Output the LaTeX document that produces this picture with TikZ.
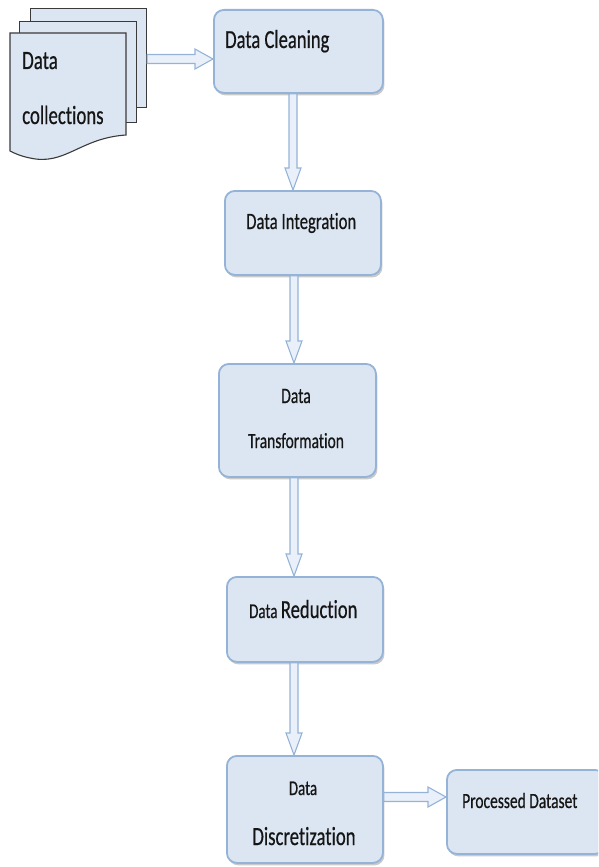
\documentclass[tikz,border=0pt]{standalone}
\usepackage{fontspec}
\setmainfont{Carlito}[Ligatures=NoCommon, FakeBold=0.6, BoldFont={Carlito}]
\usetikzlibrary{calc,shadows}
\definecolor{boxfill}{HTML}{DCE6F2}
\definecolor{boxline}{HTML}{95B3D7}
\definecolor{arrline}{HTML}{95B3D7}
\definecolor{arrfill}{HTML}{E9F0F9}
\definecolor{docline}{HTML}{3A3A3A}
\definecolor{txt}{HTML}{151515}
\newcommand{\stretched}[1]{\scalebox{1}[1.4]{#1}}
\newcommand{\varrow}[3]{%
  \draw[fatarr] let \p1=(#1.south), \p2=(#2.north) in
    (#3pt-4pt,\y1) -- (#3pt-4pt,\y2+22pt) -- (#3pt-8pt,\y2+22pt) -- (#3pt,\y2)
    -- (#3pt+8pt,\y2+22pt) -- (#3pt+4pt,\y2+22pt) -- (#3pt+4pt,\y1) -- cycle;}
\newcommand{\harrow}[3]{%
  \draw[fatarr] let \p1=(#1.east), \p2=(#2.west) in
    (\x1,-#3pt+4.5pt) -- (\x2-18pt,-#3pt+4.5pt) -- (\x2-18pt,-#3pt+10pt) -- (\x2,-#3pt)
    -- (\x2-18pt,-#3pt-10pt) -- (\x2-18pt,-#3pt-4.5pt) -- (\x1,-#3pt-4.5pt) -- cycle;}
\begin{document}
\begin{tikzpicture}[x=1pt,y=-1pt,
  box/.style={draw=boxline, line width=1.8pt, fill=boxfill, rounded corners=10pt,
    anchor=north west, inner sep=0pt,
    drop shadow={shadow xshift=1.5pt, shadow yshift=-2.5pt, opacity=0.35, fill=black!60}},
  sheet/.style={draw=docline, line width=1.1pt, fill=boxfill, anchor=north west, inner sep=0pt},
  fatarr/.style={draw=arrline, line width=1.1pt, fill=arrfill, line join=miter},
  lbl/.style={text=txt, inner sep=0pt, font=\bfseries}]
\useasboundingbox (0,0) rectangle (598,867);
\clip (0,0) rectangle (598,867);
% document stack
\node[sheet, minimum width=116pt, minimum height=99pt] (docback) at (30,8) {};
\node[sheet, minimum width=117pt, minimum height=101pt] (docmid) at (19,21) {};
\draw[docline, line width=1.1pt, fill=boxfill] (10,33) -- (126,33) -- (126,135)
  .. controls (80,138) and (65,166) .. (30,158)
  .. controls (20,156) and (14,153) .. (10,151) -- cycle;
\node[lbl, anchor=base west] (t0a) at (22,69) {\fontsize{18.9}{20}\bfseries\stretched{Data}};
\node[lbl, anchor=base west] (t0b) at (22,124) {\fontsize{18.8}{20}\bfseries\stretched{collections}};
% process boxes
\node[box, minimum width=169pt, minimum height=83pt] (clean) at (213,9) {};
\node[box, minimum width=156pt, minimum height=84pt] (integ) at (224,190) {};
\node[box, minimum width=157pt, minimum height=113pt] (trans) at (218,363) {};
\node[box, minimum width=156pt, minimum height=85pt] (reduc) at (226,576) {};
\node[box, minimum width=156pt, minimum height=107pt] (discr) at (226,755) {};
\node[box, minimum width=158pt, minimum height=84pt] (proc) at (446,769) {};
% texts
\node[lbl, anchor=base west] (t1) at (225,48) {\fontsize{18.6}{20}\bfseries\stretched{Data Cleaning}};
\node[lbl, anchor=base west] (t2) at (246,229) {\fontsize{16.7}{18}\bfseries\stretched{Data Integration}};
\node[lbl, anchor=base] (t3a) at (296,403) {\fontsize{15.7}{17}\bfseries\stretched{Data}};
\node[lbl, anchor=base] (t3b) at (296,448) {\fontsize{15.5}{17}\bfseries\stretched{Transformation}};
\node[lbl, anchor=base west] (t4) at (249,618) {\stretched{\fontsize{15}{17}\bfseries Data \fontsize{18.6}{20}\bfseries Reduction}};
\node[lbl, anchor=base] (t5a) at (303,795) {\fontsize{15}{17}\bfseries\stretched{Data}};
\node[lbl, anchor=base] (t5b) at (304,845) {\fontsize{18.7}{20}\bfseries\stretched{Discretization}};
\node[lbl, anchor=base west] (t6) at (462,808) {\fontsize{15.5}{17}\bfseries\stretched{Processed Dataset}};
% arrows
\harrow{docback}{clean}{59}
\varrow{clean}{integ}{293}
\varrow{integ}{trans}{294}
\varrow{trans}{reduc}{294}
\varrow{reduc}{discr}{294}
\harrow{discr}{proc}{797}
\end{tikzpicture}
\end{document}
